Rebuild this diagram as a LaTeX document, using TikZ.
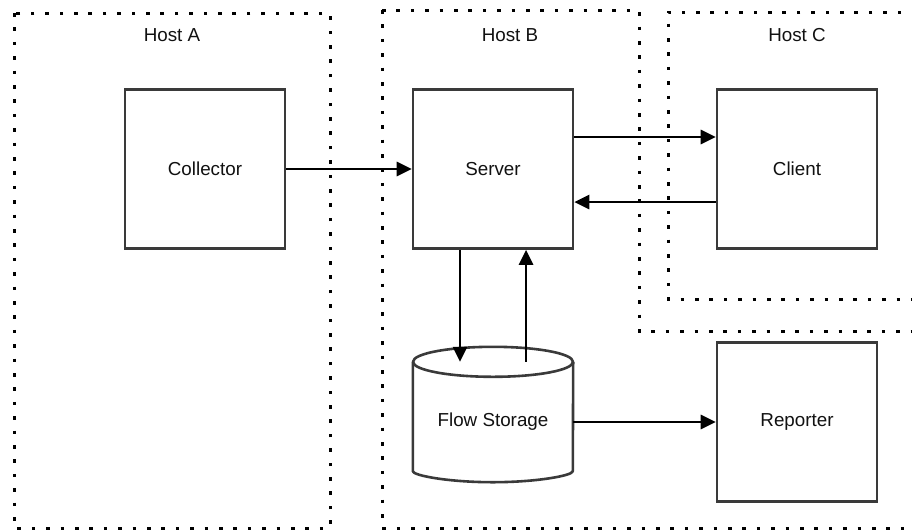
\documentclass[tikz,border=0pt]{standalone}
\usepackage{fontspec}
\setmainfont{Liberation Sans}
\usepackage{xcolor}
\usepackage{tikz}
\usetikzlibrary{calc,arrows.meta,positioning}
\definecolor{bg}{HTML}{FFFFFF}
\definecolor{edge}{HTML}{3A3A3A}
\definecolor{ink}{HTML}{000000}
\definecolor{txt}{HTML}{111111}
\tikzset{
  host/.style={draw=ink, line width=3pt, dash pattern=on 3.6pt off 10.8pt, line cap=butt},
  box/.style={draw=edge, line width=2.6pt, fill=bg, minimum width=160pt, minimum height=159pt, inner sep=0pt, text=txt},
  store/.style={minimum width=160pt, minimum height=120pt, inner sep=0pt, text=txt},
  cyl/.style={draw=edge, line width=2.6pt, line join=round, rounded corners=4pt},
  flow/.style={draw=ink, line width=2.8pt, -{Triangle[length=15pt,width=14pt]}},
  lab/.style={text=txt},
}
\begin{document}
\begin{tikzpicture}[x=1pt, y=-1pt, font=\fontsize{18.8}{22}\selectfont]
\useasboundingbox (0,0) rectangle (912,531);
\clip (0,0) rectangle (912,531);
% hosts
\draw[host] (14,13) rectangle (330,528);
\draw[host] (382,10) -- (639,10) -- (639,331) -- (930,331)
            (382,10) -- (382,528) -- (930,528);
\draw[host] (930,12) -- (668,12) -- (668,299) -- (930,299);
\node[lab] (hostA) at (172,35) {Host A};
\node[lab] (hostB) at (510,35) {Host B};
\node[lab] (hostC) at (797,35) {Host C};
% components
\node[box] (collector) at (205,169) {Collector};
\node[box] (server) at (493,169) {Server};
\node[box] (client) at (797,169) {Client};
\node[box] (reporter) at (797,422) {Reporter};
\node[store] (storage) at (493,422) {Flow Storage};
\draw[cyl] (storage.north west) -- ($(storage.south west)+(0,-15)$)
  arc[start angle=180, end angle=0, x radius=80, y radius=15]
  -- (storage.north east);
\draw[cyl] (storage.north) ellipse[x radius=80, y radius=15];
\coordinate (lidL) at ([xshift=-33pt]storage.north);
\coordinate (lidR) at ([xshift=33pt]storage.north);
% connectors
\draw[flow] (collector.east) -- (server.west);
\draw[flow] ([yshift=32pt]server.east) -- ([yshift=32pt]client.west);
\draw[flow] ([yshift=-33pt]client.west) -- ([yshift=-33pt]server.east);
\draw[flow] ([xshift=-33pt]server.south) -- (lidL);
\draw[flow] (lidR) -- ([xshift=33pt]server.south);
\draw[flow] (storage.east) -- (reporter.west);
\end{tikzpicture}
\end{document}
